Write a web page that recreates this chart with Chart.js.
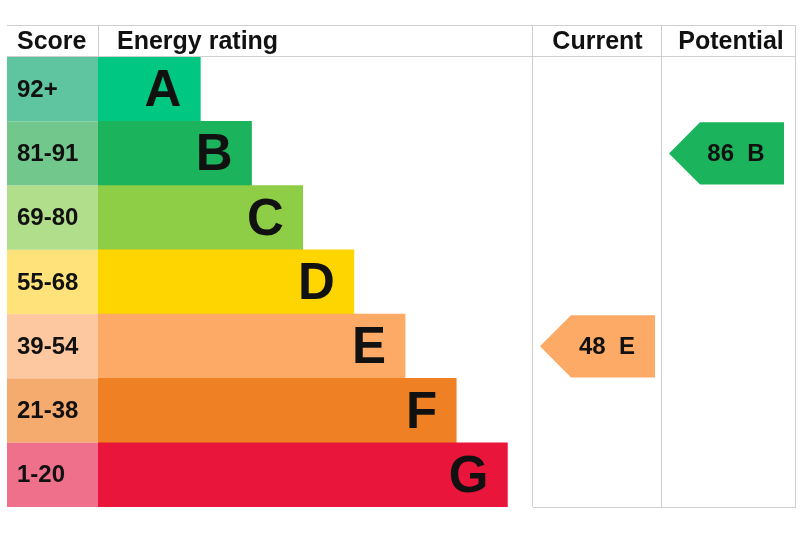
<!DOCTYPE html>
<html>
<head>
<meta charset="utf-8">
<script src="https://cdn.jsdelivr.net/npm/chart.js@4/dist/chart.umd.min.js"></script>
<style>
  html, body { margin: 0; padding: 0; background: #fff; }
  #wrap { width: 800px; height: 533px; position: relative; }
</style>
</head>
<body>
<div id="wrap"><canvas id="epcChart"></canvas></div>
<script>
// Chart data
const ratings = ["A", "B", "C", "D", "E", "F", "G"];
const scoreRanges = ["92+", "81-91", "69-80", "55-68", "39-54", "21-38", "1-20"];
const barLength = [2, 3, 4, 5, 6, 7, 8];
const barColors = ["#00c782", "#1bb35b", "#8dce46", "#ffd500", "#fcaa65", "#ef8023", "#e9153b"];
const scoreColors = ["#5fc4a0", "#72c78d", "#b0de8b", "#ffe37a", "#fdc8a0", "#f5aa6e", "#ef708b"];
const currentScore = 48;
const currentRating = "E";
const potentialScore = 86;
const potentialRating = "B";

const FONT = '"Liberation Sans", Arial, sans-serif';

// table layout (columns around the bar area)
const table = { left: 7, top: 25, right: 796, headerBottom: 57, scoreRight: 98, currentLeft: 533, potentialLeft: 662 };

function drawArrow(ctx, yScale, rowH, colLeft, score, rating) {
    const idx = ratings.indexOf(rating);
    const yc = yScale.getPixelForValue(idx);
    const top = yc - rowH / 2 + 1;
    const bottom = yc + rowH / 2 - 1;
    const tip = colLeft + 7;
    const body = tip + 31;
    const right = tip + 115;
    ctx.save();
    ctx.fillStyle = barColors[idx];
    ctx.beginPath();
    ctx.moveTo(tip, yc);
    ctx.lineTo(body, top);
    ctx.lineTo(right, top);
    ctx.lineTo(right, bottom);
    ctx.lineTo(body, bottom);
    ctx.closePath();
    ctx.fill();
    ctx.fillStyle = "#111";
    ctx.font = "bold 24px " + FONT;
    ctx.textAlign = "center";
    ctx.textBaseline = "middle";
    ctx.fillText(score + "  " + rating, tip + 67, yc + 1);
    ctx.restore();
}

const epcTable = {
    id: "epcTable",
    beforeDatasetsDraw(chart) {
        const { ctx, chartArea, scales } = chart;
        const rowH = (chartArea.bottom - chartArea.top) / ratings.length;
        // score column cells
        scoreRanges.forEach((label, i) => {
            const yc = scales.y.getPixelForValue(i);
            ctx.fillStyle = scoreColors[i];
            ctx.fillRect(table.left, yc - rowH / 2, table.scoreRight - table.left, rowH);
            ctx.fillStyle = "#111";
            ctx.font = "bold 24px " + FONT;
            ctx.textAlign = "left";
            ctx.textBaseline = "middle";
            ctx.fillText(label, 17, yc + 1);
        });
    },
    afterDatasetsDraw(chart) {
        const { ctx, chartArea, scales } = chart;
        const rowH = (chartArea.bottom - chartArea.top) / ratings.length;
        const meta = chart.getDatasetMeta(0);

        // rating letters inside bars
        ctx.save();
        ctx.fillStyle = "#111";
        ctx.font = "bold 51px " + FONT;
        ctx.textAlign = "right";
        ctx.textBaseline = "middle";
        meta.data.forEach((bar, i) => {
            ctx.fillText(ratings[i], bar.x - 19, bar.y + 3);
        });
        ctx.restore();

        // grid lines
        const bottom = chartArea.bottom;
        ctx.save();
        ctx.strokeStyle = "#cfcfcf";
        ctx.lineWidth = 1;
        ctx.beginPath();
        ctx.moveTo(table.left, table.top + 0.5);
        ctx.lineTo(table.right, table.top + 0.5);
        ctx.moveTo(table.left, table.headerBottom - 0.5);
        ctx.lineTo(table.right, table.headerBottom - 0.5);
        ctx.moveTo(table.scoreRight + 0.5, table.top);
        ctx.lineTo(table.scoreRight + 0.5, table.headerBottom);
        ctx.moveTo(table.currentLeft - 0.5, table.top);
        ctx.lineTo(table.currentLeft - 0.5, bottom);
        ctx.moveTo(table.potentialLeft - 0.5, table.top);
        ctx.lineTo(table.potentialLeft - 0.5, bottom);
        ctx.moveTo(table.right - 0.5, table.top);
        ctx.lineTo(table.right - 0.5, bottom);
        ctx.moveTo(table.currentLeft, bottom + 0.5);
        ctx.lineTo(table.right, bottom + 0.5);
        ctx.stroke();
        ctx.restore();

        // header texts
        ctx.save();
        ctx.fillStyle = "#111";
        ctx.font = "bold 25px " + FONT;
        ctx.textBaseline = "middle";
        ctx.textAlign = "left";
        const hy = (table.top + table.headerBottom) / 2 + 1;
        ctx.fillText("Score", 17, hy);
        ctx.fillText("Energy rating", 117, hy);
        ctx.textAlign = "center";
        ctx.fillText("Current", (table.currentLeft + table.potentialLeft) / 2, hy);
        ctx.fillText("Potential", (table.potentialLeft + table.right) / 2 + 2, hy);
        ctx.restore();

        // current / potential arrows
        drawArrow(ctx, scales.y, rowH, table.currentLeft, currentScore, currentRating);
        drawArrow(ctx, scales.y, rowH, table.potentialLeft, potentialScore, potentialRating);
    }
};

document.addEventListener("DOMContentLoaded", () => {
    const ctx = document.getElementById("epcChart").getContext("2d");
    new Chart(ctx, {
        type: "bar",
        data: {
            labels: ratings,
            datasets: [{
                data: barLength,
                backgroundColor: barColors,
                borderWidth: 0,
                categoryPercentage: 1.0,
                barPercentage: 1.0,
            }],
        },
        options: {
            indexAxis: "y",
            responsive: true,
            maintainAspectRatio: false,
            animation: false,
            layout: { padding: { left: table.scoreRight, right: 800 - table.currentLeft, top: table.headerBottom, bottom: 26 } },
            scales: {
                x: { display: false, min: 0, max: 8.5 },
                y: { display: false },
            },
            plugins: {
                legend: { display: false },
                tooltip: { enabled: false },
            },
        },
        plugins: [epcTable],
    });
});
</script>
</body>
</html>
